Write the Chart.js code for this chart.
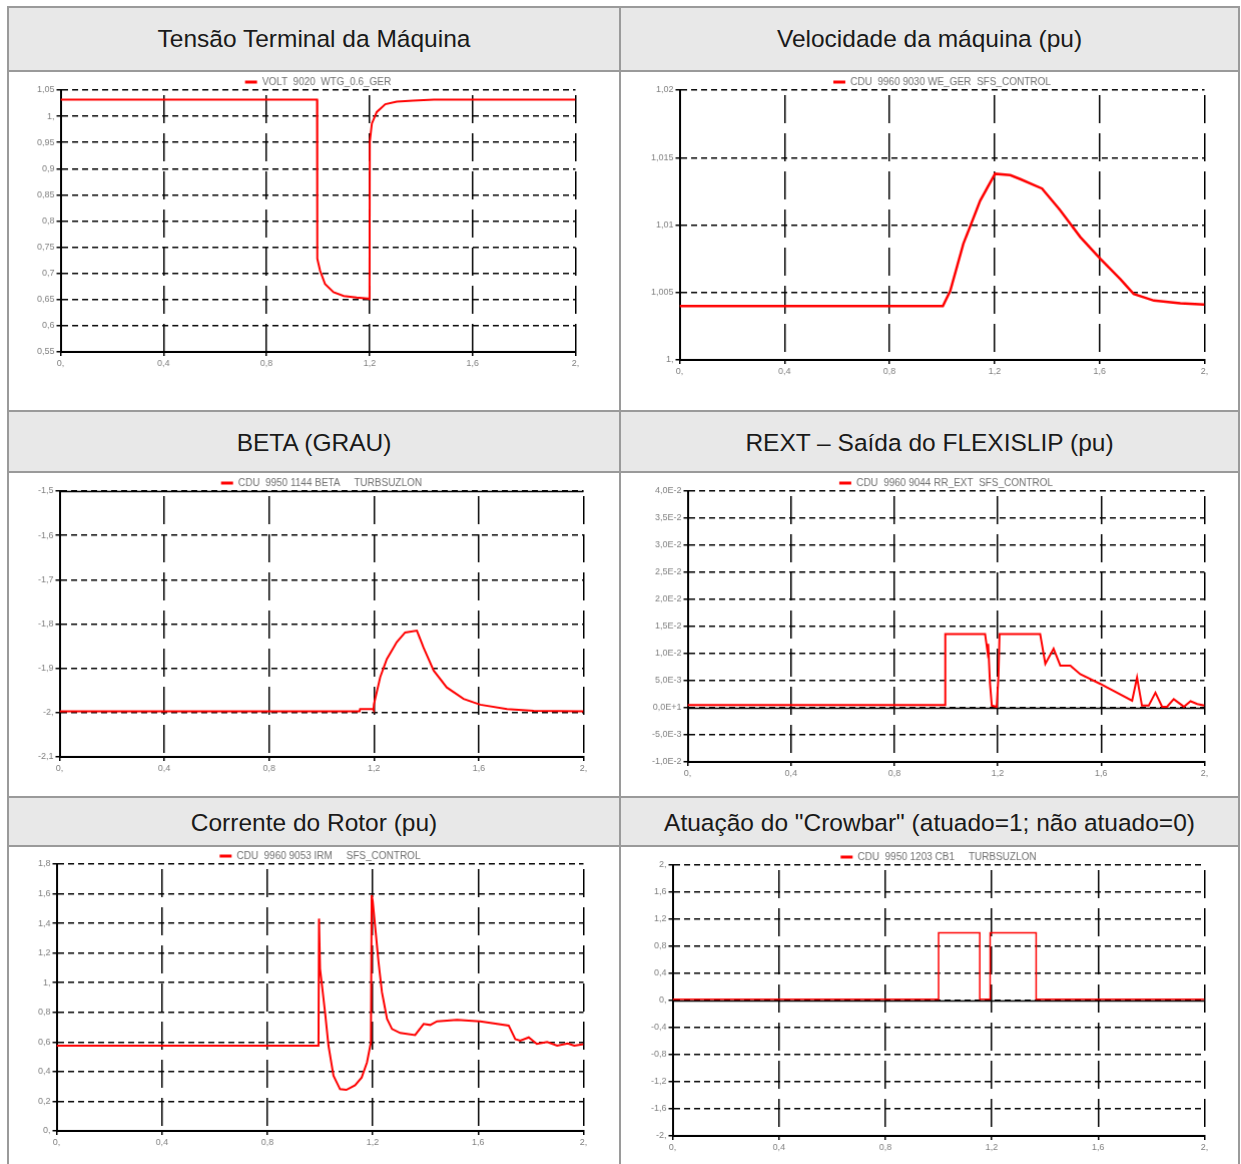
<!DOCTYPE html>
<html>
<head>
<meta charset="utf-8">
<script src="https://cdn.jsdelivr.net/npm/chart.js@4.4.0/dist/chart.umd.min.js"></script>
<style>
    body { margin: 0; background: #fff; width: 1241px; height: 1164px; overflow: hidden; position: relative; font-family: "Liberation Sans", Arial, sans-serif; }
    .line { position: absolute; background: #9a9a9a; }
    .head { position: absolute; background: #e8e8e8; display: flex; align-items: center; justify-content: center; font-size: 24.5px; color: #1a1a1a; box-sizing: border-box; }
    .box { position: absolute; }
</style>
</head>
<body>

<div class="head" style="left:9px;top:8px;width:610px;height:62px;">Tensão Terminal da Máquina</div>
<div class="head" style="left:621px;top:8px;width:617px;height:62px;">Velocidade da máquina (pu)</div>
<div class="head" style="left:9px;top:412px;width:610px;height:59px;padding-top:3px;">BETA (GRAU)</div>
<div class="head" style="left:621px;top:412px;width:617px;height:59px;padding-top:3px;">REXT – Saída do FLEXISLIP (pu)</div>
<div class="head" style="left:9px;top:798px;width:610px;height:47px;padding-top:3px;">Corrente do Rotor (pu)</div>
<div class="head" style="left:621px;top:798px;width:617px;height:47px;padding-top:3px;">Atuação do "Crowbar" (atuado=1; não atuado=0)</div>

<!-- bordas da tabela -->
<div class="line" style="left:7px;top:6px;width:1233px;height:2px;"></div>
<div class="line" style="left:7px;top:70px;width:1233px;height:2px;"></div>
<div class="line" style="left:7px;top:410px;width:1233px;height:2px;"></div>
<div class="line" style="left:7px;top:471px;width:1233px;height:2px;"></div>
<div class="line" style="left:7px;top:796px;width:1233px;height:2px;"></div>
<div class="line" style="left:7px;top:845px;width:1233px;height:2px;"></div>
<div class="line" style="left:7px;top:6px;width:2px;height:1160px;"></div>
<div class="line" style="left:619px;top:6px;width:2px;height:1160px;"></div>
<div class="line" style="left:1238px;top:6px;width:2px;height:1160px;"></div>

<div class="box" id="b1" style="left:0;top:72px;width:600px;height:320px;"><canvas id="c1"></canvas></div>
<div class="box" id="b2" style="left:621px;top:72px;width:600px;height:320px;"><canvas id="c2"></canvas></div>
<div class="box" id="b3" style="left:0;top:473px;width:600px;height:320px;"><canvas id="c3"></canvas></div>
<div class="box" id="b4" style="left:621px;top:473px;width:600px;height:320px;"><canvas id="c4"></canvas></div>
<div class="box" id="b5" style="left:0;top:847px;width:600px;height:320px;"><canvas id="c5"></canvas></div>
<div class="box" id="b6" style="left:621px;top:847px;width:600px;height:320px;"><canvas id="c6"></canvas></div>

<script>
// eixo x comum (tempo, s)
const xTicks = [0, 0.4, 0.8, 1.2, 1.6, 2];
const xLabels = ['0,', '0,4', '0,8', '1,2', '1,6', '2,'];

// Tensão terminal
const voltT = [0, 0.996, 0.997, 1.008, 1.027, 1.06, 1.10, 1.15, 1.195, 1.2, 1.201, 1.209, 1.228, 1.261, 1.306, 1.37, 1.45, 2.0];
const voltV = [1.032, 1.032, 0.728, 0.705, 0.680, 0.664, 0.657, 0.654, 0.652, 0.651, 0.951, 0.986, 1.008, 1.023, 1.028, 1.030, 1.032, 1.032];
const voltTicks = [0.55, 0.6, 0.65, 0.7, 0.75, 0.8, 0.85, 0.9, 0.95, 1.0, 1.05];
const voltLabels = ['0,55', '0,6', '0,65', '0,7', '0,75', '0,8', '0,85', '0,9', '0,95', '1,', '1,05'];

// Velocidade
const speedT = [0, 1.003, 1.031, 1.081, 1.145, 1.202, 1.26, 1.298, 1.381, 1.45, 1.527, 1.603, 1.679, 1.73, 1.807, 1.908, 2.0];
const speedV = [1.0040, 1.0040, 1.0051, 1.0086, 1.0118, 1.0138, 1.0137, 1.0134, 1.0127, 1.0111, 1.0091, 1.0075, 1.0060, 1.0049, 1.0044, 1.0042, 1.0041];
const speedTicks = [1.0, 1.005, 1.01, 1.015, 1.02];
const speedLabels = ['1,', '1,005', '1,01', '1,015', '1,02'];

// Beta
const betaT = [0, 1.145, 1.147, 1.196, 1.198, 1.2, 1.224, 1.249, 1.287, 1.319, 1.364, 1.389, 1.428, 1.478, 1.542, 1.606, 1.708, 1.81, 2.0];
const betaV = [-1.997, -1.997, -1.992, -1.992, -1.994, -1.981, -1.920, -1.879, -1.841, -1.819, -1.815, -1.853, -1.905, -1.943, -1.969, -1.982, -1.992, -1.996, -1.997];
const betaTicks = [-2.1, -2.0, -1.9, -1.8, -1.7, -1.6, -1.5];
const betaLabels = ['-2,1', '-2,', '-1,9', '-1,8', '-1,7', '-1,6', '-1,5'];

// REXT
const rextT = [0, 0.996, 0.997, 1.151, 1.16, 1.163, 1.17, 1.177, 1.196, 1.203, 1.207, 1.364, 1.384, 1.416, 1.442, 1.481, 1.519, 1.597, 1.72, 1.739, 1.758, 1.784, 1.81, 1.836, 1.855, 1.881, 1.92, 1.946, 1.972, 2.0];
const rextV = [0.0005, 0.0005, 0.0136, 0.0136, 0.0105, 0.0118, 0.0045, 0.0004, 0.0002, 0.006, 0.0136, 0.0136, 0.0081, 0.0109, 0.0078, 0.0078, 0.0062, 0.0044, 0.0013, 0.0056, 0.0004, 0.0004, 0.0028, 0.0002, 0.0002, 0.0016, 0.0002, 0.0012, 0.0007, 0.0004];
const rextTicks = [-0.01, -0.005, 0, 0.005, 0.01, 0.015, 0.02, 0.025, 0.03, 0.035, 0.04];
const rextLabels = ['-1,0E-2', '-5,0E-3', '0,0E+1', '5,0E-3', '1,0E-2', '1,5E-2', '2,0E-2', '2,5E-2', '3,0E-2', '3,5E-2', '4,0E-2'];

// Corrente do rotor
const irmT = [0, 0.994, 0.996, 1.0, 1.006, 1.019, 1.032, 1.051, 1.076, 1.10, 1.133, 1.158, 1.178, 1.193, 1.196, 1.2, 1.21, 1.222, 1.235, 1.254, 1.273, 1.304, 1.361, 1.393, 1.418, 1.444, 1.52, 1.608, 1.716, 1.741, 1.76, 1.792, 1.823, 1.862, 1.90, 1.94, 1.965, 2.0];
const irmV = [0.575, 0.575, 1.432, 1.094, 1.003, 0.80, 0.575, 0.372, 0.282, 0.277, 0.309, 0.361, 0.462, 0.597, 1.59, 1.55, 1.365, 1.139, 0.936, 0.756, 0.688, 0.661, 0.647, 0.722, 0.715, 0.740, 0.749, 0.740, 0.711, 0.620, 0.61, 0.631, 0.587, 0.60, 0.575, 0.59, 0.575, 0.585];
const irmTicks = [0, 0.2, 0.4, 0.6, 0.8, 1.0, 1.2, 1.4, 1.6, 1.8];
const irmLabels = ['0,', '0,2', '0,4', '0,6', '0,8', '1,', '1,2', '1,4', '1,6', '1,8'];

// Crowbar
const cbT = [0, 1.0, 1.0, 1.155, 1.155, 1.194, 1.194, 1.367, 1.367, 2.0];
const cbV = [0.02, 0.02, 1, 1, 0.02, 0.02, 1, 1, 0.02, 0.02];
const cbTicks = [-2, -1.6, -1.2, -0.8, -0.4, 0, 0.4, 0.8, 1.2, 1.6, 2];
const cbLabels = ['-2,', '-1,6', '-1,2', '-0,8', '-0,4', '0,', '0,4', '0,8', '1,2', '1,6', '2,'];

const FONT = "'Liberation Sans', Arial, sans-serif";

// linhas cheias (eixo zero / topo) desenhadas por cima da grade tracejada
const solidLines = {
    id: 'solidLines',
    beforeDatasetsDraw(chart, args, opts) {
        const ctx = chart.ctx, y = chart.scales.y, a = chart.chartArea;
        (opts.values || []).forEach(v => {
            const py = Math.round(y.getPixelForValue(v)) + 0.5;
            ctx.save();
            ctx.strokeStyle = '#000';
            ctx.lineWidth = 1.6;
            ctx.beginPath();
            ctx.moveTo(a.left, py);
            ctx.lineTo(a.right, py);
            ctx.stroke();
            ctx.restore();
        });
    }
};

function makeChart(n, area, t, v, label, yTicks, yLabels, solid, lw) {
    const ctx = document.getElementById('c' + n);
    const box = document.getElementById('b' + n);
    const chart = new Chart(ctx, {
        type: 'line',
        data: {
            datasets: [{
                label: label,
                data: t.map((x, i) => ({ x: x, y: v[i] })),
                borderColor: '#ff0000',
                backgroundColor: '#ff0000',
                borderWidth: lw,
                pointRadius: 0,
                tension: 0
            }]
        },
        options: {
            responsive: true,
            maintainAspectRatio: false,
            animation: false,
            layout: { padding: { left: 0, right: 10, top: 0, bottom: 0 } },
            plugins: {
                legend: {
                    position: 'top',
                    fullSize: false,
                    labels: {
                        boxWidth: 12,
                        boxHeight: 3,
                        padding: 0,
                        color: '#707070',
                        font: { family: FONT, size: 10 },
                        generateLabels: function(c) {
                            const labels = Chart.defaults.plugins.legend.labels.generateLabels(c);
                            labels.forEach(l => { l.lineWidth = 0; l.fillStyle = '#ff0000'; });
                            return labels;
                        }
                    }
                },
                tooltip: { enabled: false },
                solidLines: { values: solid }
            },
            scales: {
                x: {
                    type: 'linear',
                    min: 0,
                    max: 2,
                    afterBuildTicks: s => { s.ticks = xTicks.map(x => ({ value: x })); },
                    ticks: {
                        callback: (val, i) => xLabels[i],
                        color: '#808080',
                        font: { family: FONT, size: 9 },
                        padding: 2,
                        maxRotation: 0,
                        autoSkip: false
                    },
                    grid: { color: '#000', lineWidth: 1.5, tickLength: 4, tickBorderDash: [] },
                    border: { display: true, color: '#000', width: 2, dash: [28, 10], dashOffset: 33 }
                },
                y: {
                    type: 'linear',
                    min: yTicks[0],
                    max: yTicks[yTicks.length - 1],
                    afterBuildTicks: s => { s.ticks = yTicks.map(x => ({ value: x })); },
                    ticks: {
                        callback: (val, i) => yLabels[i],
                        color: '#808080',
                        font: { family: FONT, size: 9 },
                        padding: 2,
                        autoSkip: false
                    },
                    grid: { color: '#000', lineWidth: 1.5, tickLength: 4, tickBorderDash: [] },
                    border: { display: true, color: '#000', width: 2, dash: [6, 4] }
                }
            }
        },
        plugins: [solidLines]
    });

    // legenda mais colada à área do gráfico (o Chart.js soma 10px fixos)
    const fit0 = chart.legend.fit;
    chart.legend.fit = function() { fit0.call(this); this.height -= 7; };
    chart.update();

    // ajusta a caixa para que a área do gráfico caia no lugar da figura
    let a = chart.chartArea;
    const w = box.offsetWidth + (area[2] - area[0]) - (a.right - a.left);
    const h = box.offsetHeight + (area[3] - area[1]) - (a.bottom - a.top);
    box.style.width = w + 'px';
    box.style.height = h + 'px';
    chart.resize();
    a = chart.chartArea;
    box.style.left = (area[0] - a.left) + 'px';
    box.style.top = (area[1] - a.top) + 'px';
    return chart;
}

makeChart(1, [61, 90, 575, 351], voltT, voltV, 'VOLT  9020  WTG_0.6_GER', voltTicks, voltLabels, [], 2);
makeChart(2, [680, 90, 1204, 359], speedT, speedV, 'CDU  9960 9030 WE_GER  SFS_CONTROL', speedTicks, speedLabels, [], 2.5);
makeChart(3, [60, 491, 583, 756], betaT, betaV, 'CDU  9950 1144 BETA     TURBSUZLON', betaTicks, betaLabels, [-1.5], 2);
makeChart(4, [688, 491, 1204, 761], rextT, rextV, 'CDU  9960 9044 RR_EXT  SFS_CONTROL', rextTicks, rextLabels, [0], 2);
makeChart(5, [57, 864, 583, 1130], irmT, irmV, 'CDU  9960 9053 IRM     SFS_CONTROL', irmTicks, irmLabels, [], 2);
makeChart(6, [673, 865, 1204, 1135], cbT, cbV, 'CDU  9950 1203 CB1     TURBSUZLON', cbTicks, cbLabels, [0], 1.5);
</script>
</body>
</html>
